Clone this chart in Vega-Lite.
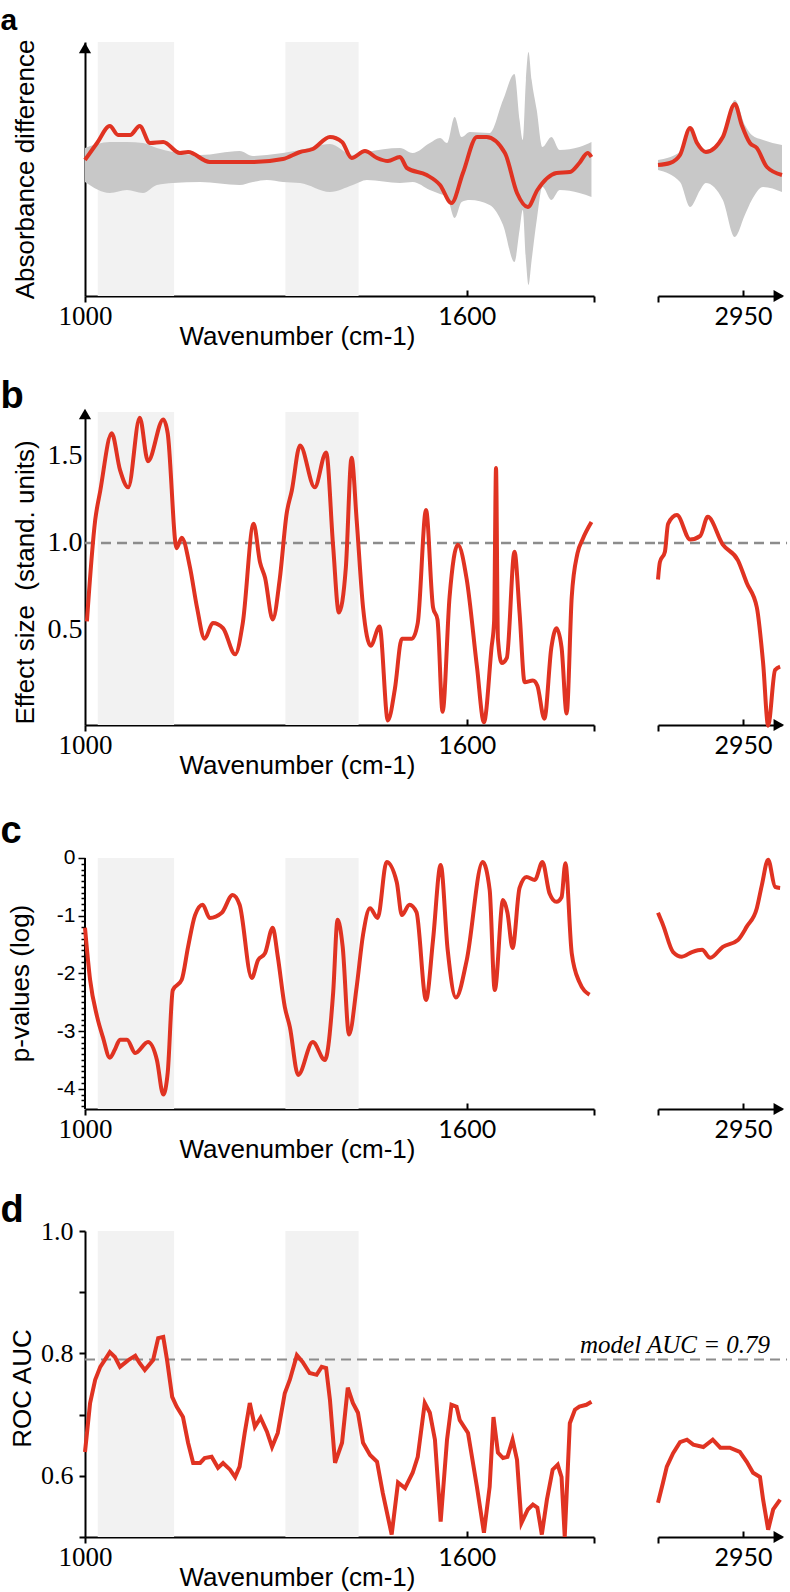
{
  "$schema": "https://vega.github.io/schema/vega-lite/v6.json",
  "background": "white",
  "autosize": {"type": "none"},
  "padding": {"left": 85, "top": 42, "right": 705, "bottom": 1550},
  "columns": 2,
  "align": "each",
  "bounds": "flush",
  "spacing": {"row": 122, "column": 64},
  "config": {
    "view": {"stroke": null},
    "axis": {"grid": false, "labelColor": "black", "tickColor": "black", "domainColor": "black", "titleColor": "black", "domainWidth": 2}
  },
  "datasets": {
    "bands": [{"start": 1020, "end": 1140}, {"start": 1315, "end": 1430}],
    "aLine": [
      {"w": 1000, "v": 0.00}, {"w": 1019, "v": 0.17}, {"w": 1039, "v": 0.34}, {"w": 1052, "v": 0.25},
      {"w": 1071, "v": 0.25}, {"w": 1086, "v": 0.34}, {"w": 1102, "v": 0.17}, {"w": 1123, "v": 0.18},
      {"w": 1149, "v": 0.07}, {"w": 1162, "v": 0.08}, {"w": 1196, "v": -0.02}, {"w": 1232, "v": -0.02},
      {"w": 1264, "v": -0.02}, {"w": 1311, "v": 0.01}, {"w": 1338, "v": 0.08}, {"w": 1358, "v": 0.11},
      {"w": 1385, "v": 0.23}, {"w": 1404, "v": 0.18}, {"w": 1419, "v": 0.02}, {"w": 1440, "v": 0.09},
      {"w": 1459, "v": 0.02}, {"w": 1476, "v": -0.01}, {"w": 1495, "v": 0.03}, {"w": 1506, "v": -0.08},
      {"w": 1537, "v": -0.15}, {"w": 1558, "v": -0.25}, {"w": 1576, "v": -0.43}, {"w": 1594, "v": -0.13},
      {"w": 1616, "v": 0.23}, {"w": 1631, "v": 0.23}, {"w": 1660, "v": 0.07}, {"w": 1679, "v": -0.33},
      {"w": 1696, "v": -0.47}, {"w": 1711, "v": -0.30}, {"w": 1741, "v": -0.13}, {"w": 1762, "v": -0.12},
      {"w": 1777, "v": -0.03}, {"w": 1790, "v": 0.07}, {"w": 1796, "v": 0.03}
    ],
    "aBand": [
      {"w": 1000, "lo": -0.22, "hi": 0.12}, {"w": 1039, "lo": -0.33, "hi": 0.18}, {"w": 1066, "lo": -0.30, "hi": 0.18},
      {"w": 1091, "lo": -0.33, "hi": 0.17}, {"w": 1113, "lo": -0.25, "hi": 0.12}, {"w": 1138, "lo": -0.23, "hi": 0.08},
      {"w": 1181, "lo": -0.22, "hi": 0.05}, {"w": 1243, "lo": -0.25, "hi": 0.09}, {"w": 1264, "lo": -0.22, "hi": 0.04},
      {"w": 1286, "lo": -0.20, "hi": 0.05}, {"w": 1311, "lo": -0.22, "hi": 0.07}, {"w": 1338, "lo": -0.23, "hi": 0.10},
      {"w": 1385, "lo": -0.32, "hi": 0.16}, {"w": 1421, "lo": -0.25, "hi": 0.05}, {"w": 1443, "lo": -0.20, "hi": 0.08},
      {"w": 1495, "lo": -0.23, "hi": 0.12}, {"w": 1515, "lo": -0.22, "hi": 0.07}, {"w": 1542, "lo": -0.30, "hi": 0.17},
      {"w": 1558, "lo": -0.34, "hi": 0.22}, {"w": 1569, "lo": -0.37, "hi": 0.17}, {"w": 1581, "lo": -0.58, "hi": 0.43},
      {"w": 1592, "lo": -0.42, "hi": 0.23}, {"w": 1605, "lo": -0.40, "hi": 0.28}, {"w": 1636, "lo": -0.45, "hi": 0.27},
      {"w": 1657, "lo": -0.65, "hi": 0.60}, {"w": 1675, "lo": -1.02, "hi": 0.86}, {"w": 1683, "lo": -0.70, "hi": 0.40},
      {"w": 1688, "lo": -0.50, "hi": 0.20}, {"w": 1693, "lo": -1.00, "hi": 0.80}, {"w": 1697, "lo": -1.25, "hi": 1.08},
      {"w": 1702, "lo": -1.00, "hi": 0.80}, {"w": 1710, "lo": -0.60, "hi": 0.50}, {"w": 1719, "lo": -0.27, "hi": 0.13},
      {"w": 1733, "lo": -0.40, "hi": 0.23}, {"w": 1746, "lo": -0.30, "hi": 0.10}, {"w": 1777, "lo": -0.33, "hi": 0.13},
      {"w": 1796, "lo": -0.37, "hi": 0.18}
    ],
    "aLineR": [
      {"w": 2815, "v": -0.05}, {"w": 2834, "v": -0.03}, {"w": 2850, "v": 0.05}, {"w": 2866, "v": 0.32},
      {"w": 2877, "v": 0.17}, {"w": 2891, "v": 0.08}, {"w": 2918, "v": 0.23}, {"w": 2937, "v": 0.56},
      {"w": 2948, "v": 0.35}, {"w": 2961, "v": 0.17}, {"w": 2972, "v": 0.12}, {"w": 2988, "v": -0.07},
      {"w": 3012, "v": -0.15}
    ],
    "aBandR": [
      {"w": 2815, "lo": -0.10, "hi": 0.00}, {"w": 2850, "lo": -0.22, "hi": 0.08}, {"w": 2866, "lo": -0.47, "hi": 0.30},
      {"w": 2882, "lo": -0.30, "hi": 0.15}, {"w": 2891, "lo": -0.23, "hi": 0.10}, {"w": 2918, "lo": -0.40, "hi": 0.23},
      {"w": 2937, "lo": -0.77, "hi": 0.60}, {"w": 2953, "lo": -0.55, "hi": 0.35}, {"w": 2964, "lo": -0.40, "hi": 0.25},
      {"w": 2982, "lo": -0.27, "hi": 0.20}, {"w": 3012, "lo": -0.32, "hi": 0.15}
    ],
    "bLine": [
      {"w": 1003, "v": 0.55}, {"w": 1016, "v": 1.13}, {"w": 1024, "v": 1.30}, {"w": 1042, "v": 1.63},
      {"w": 1055, "v": 1.42}, {"w": 1068, "v": 1.32}, {"w": 1086, "v": 1.72}, {"w": 1099, "v": 1.47},
      {"w": 1123, "v": 1.71}, {"w": 1130, "v": 1.63}, {"w": 1144, "v": 0.97}, {"w": 1152, "v": 1.03},
      {"w": 1165, "v": 0.86}, {"w": 1176, "v": 0.63}, {"w": 1188, "v": 0.45}, {"w": 1201, "v": 0.54},
      {"w": 1217, "v": 0.51}, {"w": 1236, "v": 0.36}, {"w": 1248, "v": 0.54}, {"w": 1265, "v": 1.11},
      {"w": 1275, "v": 0.89}, {"w": 1283, "v": 0.80}, {"w": 1295, "v": 0.56}, {"w": 1306, "v": 0.79},
      {"w": 1317, "v": 1.17}, {"w": 1325, "v": 1.30}, {"w": 1338, "v": 1.56}, {"w": 1361, "v": 1.32},
      {"w": 1379, "v": 1.52}, {"w": 1390, "v": 0.98}, {"w": 1399, "v": 0.60}, {"w": 1410, "v": 0.86},
      {"w": 1419, "v": 1.49}, {"w": 1427, "v": 1.13}, {"w": 1437, "v": 0.63}, {"w": 1449, "v": 0.41},
      {"w": 1463, "v": 0.52}, {"w": 1476, "v": -0.02}, {"w": 1487, "v": 0.16}, {"w": 1498, "v": 0.45},
      {"w": 1514, "v": 0.45}, {"w": 1523, "v": 0.54}, {"w": 1536, "v": 1.19}, {"w": 1547, "v": 0.63},
      {"w": 1554, "v": 0.56}, {"w": 1562, "v": 0.03}, {"w": 1573, "v": 0.69}, {"w": 1586, "v": 0.99},
      {"w": 1600, "v": 0.79}, {"w": 1616, "v": 0.29}, {"w": 1627, "v": -0.03}, {"w": 1639, "v": 0.40},
      {"w": 1643, "v": 0.55}, {"w": 1646, "v": 1.43}, {"w": 1649, "v": 0.45}, {"w": 1655, "v": 0.31},
      {"w": 1663, "v": 0.34}, {"w": 1675, "v": 0.95}, {"w": 1683, "v": 0.60}, {"w": 1691, "v": 0.20},
      {"w": 1704, "v": 0.21}, {"w": 1711, "v": 0.18}, {"w": 1722, "v": -0.01}, {"w": 1733, "v": 0.40},
      {"w": 1741, "v": 0.51}, {"w": 1749, "v": 0.40}, {"w": 1757, "v": 0.02}, {"w": 1765, "v": 0.69},
      {"w": 1774, "v": 0.94}, {"w": 1782, "v": 1.02}, {"w": 1796, "v": 1.12}
    ],
    "bLineR": [
      {"w": 2815, "v": 0.79}, {"w": 2818, "v": 0.89}, {"w": 2826, "v": 0.95}, {"w": 2831, "v": 1.11},
      {"w": 2845, "v": 1.16}, {"w": 2866, "v": 1.02}, {"w": 2882, "v": 1.04}, {"w": 2894, "v": 1.15},
      {"w": 2918, "v": 0.99}, {"w": 2942, "v": 0.90}, {"w": 2956, "v": 0.77}, {"w": 2972, "v": 0.63},
      {"w": 2982, "v": 0.31}, {"w": 2990, "v": -0.05}, {"w": 3001, "v": 0.27}, {"w": 3009, "v": 0.29}
    ],
    "cLine": [
      {"w": 1000, "v": -1.21}, {"w": 1008, "v": -2.11}, {"w": 1019, "v": -2.75}, {"w": 1028, "v": -3.10},
      {"w": 1039, "v": -3.46}, {"w": 1047, "v": -3.32}, {"w": 1055, "v": -3.15}, {"w": 1066, "v": -3.15},
      {"w": 1079, "v": -3.38}, {"w": 1099, "v": -3.19}, {"w": 1113, "v": -3.50}, {"w": 1123, "v": -4.10},
      {"w": 1130, "v": -3.72}, {"w": 1138, "v": -2.29}, {"w": 1152, "v": -2.11}, {"w": 1162, "v": -1.54},
      {"w": 1173, "v": -0.99}, {"w": 1185, "v": -0.81}, {"w": 1196, "v": -1.04}, {"w": 1215, "v": -0.95},
      {"w": 1232, "v": -0.64}, {"w": 1243, "v": -0.81}, {"w": 1262, "v": -2.08}, {"w": 1272, "v": -1.77},
      {"w": 1283, "v": -1.65}, {"w": 1295, "v": -1.21}, {"w": 1303, "v": -1.71}, {"w": 1314, "v": -2.58},
      {"w": 1322, "v": -2.93}, {"w": 1335, "v": -3.76}, {"w": 1358, "v": -3.19}, {"w": 1377, "v": -3.50},
      {"w": 1390, "v": -2.34}, {"w": 1397, "v": -1.07}, {"w": 1405, "v": -1.54}, {"w": 1415, "v": -3.06},
      {"w": 1427, "v": -2.23}, {"w": 1437, "v": -1.33}, {"w": 1448, "v": -0.87}, {"w": 1460, "v": -1.04},
      {"w": 1474, "v": -0.07}, {"w": 1490, "v": -0.42}, {"w": 1498, "v": -0.99}, {"w": 1510, "v": -0.81},
      {"w": 1521, "v": -0.94}, {"w": 1536, "v": -2.46}, {"w": 1547, "v": -1.42}, {"w": 1559, "v": -0.12},
      {"w": 1570, "v": -1.59}, {"w": 1583, "v": -2.42}, {"w": 1600, "v": -1.77}, {"w": 1625, "v": -0.07},
      {"w": 1636, "v": -0.55}, {"w": 1644, "v": -2.29}, {"w": 1657, "v": -0.73}, {"w": 1664, "v": -0.95},
      {"w": 1672, "v": -1.56}, {"w": 1683, "v": -0.52}, {"w": 1694, "v": -0.33}, {"w": 1707, "v": -0.38},
      {"w": 1719, "v": -0.07}, {"w": 1730, "v": -0.61}, {"w": 1741, "v": -0.76}, {"w": 1749, "v": -0.68},
      {"w": 1755, "v": -0.09}, {"w": 1765, "v": -1.65}, {"w": 1777, "v": -2.15}, {"w": 1793, "v": -2.37}
    ],
    "cLineR": [
      {"w": 2815, "v": -0.95}, {"w": 2823, "v": -1.16}, {"w": 2839, "v": -1.63}, {"w": 2853, "v": -1.71},
      {"w": 2869, "v": -1.63}, {"w": 2885, "v": -1.59}, {"w": 2898, "v": -1.73}, {"w": 2918, "v": -1.54},
      {"w": 2942, "v": -1.42}, {"w": 2956, "v": -1.19}, {"w": 2972, "v": -0.87}, {"w": 2980, "v": -0.47},
      {"w": 2990, "v": -0.03}, {"w": 3001, "v": -0.50}, {"w": 3009, "v": -0.52}
    ],
    "dLine": [
      {"w": 1000, "v": 0.639}, {"w": 1008, "v": 0.719}, {"w": 1016, "v": 0.757}, {"w": 1024, "v": 0.778},
      {"w": 1031, "v": 0.789}, {"w": 1039, "v": 0.802}, {"w": 1047, "v": 0.794}, {"w": 1055, "v": 0.778},
      {"w": 1068, "v": 0.789}, {"w": 1079, "v": 0.796}, {"w": 1086, "v": 0.784}, {"w": 1094, "v": 0.773},
      {"w": 1107, "v": 0.789}, {"w": 1115, "v": 0.825}, {"w": 1123, "v": 0.827}, {"w": 1129, "v": 0.789},
      {"w": 1137, "v": 0.729}, {"w": 1144, "v": 0.713}, {"w": 1154, "v": 0.696}, {"w": 1162, "v": 0.654},
      {"w": 1170, "v": 0.621}, {"w": 1181, "v": 0.621}, {"w": 1188, "v": 0.629}, {"w": 1199, "v": 0.631},
      {"w": 1209, "v": 0.613}, {"w": 1217, "v": 0.621}, {"w": 1228, "v": 0.610}, {"w": 1236, "v": 0.598},
      {"w": 1243, "v": 0.615}, {"w": 1251, "v": 0.670}, {"w": 1259, "v": 0.719}, {"w": 1267, "v": 0.680},
      {"w": 1276, "v": 0.695}, {"w": 1286, "v": 0.672}, {"w": 1294, "v": 0.647}, {"w": 1303, "v": 0.670},
      {"w": 1314, "v": 0.735}, {"w": 1322, "v": 0.757}, {"w": 1333, "v": 0.797}, {"w": 1342, "v": 0.786},
      {"w": 1353, "v": 0.768}, {"w": 1364, "v": 0.765}, {"w": 1372, "v": 0.778}, {"w": 1379, "v": 0.776},
      {"w": 1385, "v": 0.724}, {"w": 1393, "v": 0.621}, {"w": 1404, "v": 0.654}, {"w": 1413, "v": 0.744},
      {"w": 1421, "v": 0.719}, {"w": 1429, "v": 0.703}, {"w": 1437, "v": 0.654}, {"w": 1448, "v": 0.634},
      {"w": 1459, "v": 0.623}, {"w": 1468, "v": 0.572}, {"w": 1482, "v": 0.504}, {"w": 1492, "v": 0.589},
      {"w": 1503, "v": 0.580}, {"w": 1515, "v": 0.605}, {"w": 1523, "v": 0.631}, {"w": 1534, "v": 0.719},
      {"w": 1542, "v": 0.703}, {"w": 1550, "v": 0.659}, {"w": 1559, "v": 0.525}, {"w": 1569, "v": 0.659},
      {"w": 1576, "v": 0.716}, {"w": 1584, "v": 0.713}, {"w": 1589, "v": 0.691}, {"w": 1602, "v": 0.670},
      {"w": 1616, "v": 0.582}, {"w": 1627, "v": 0.507}, {"w": 1636, "v": 0.582}, {"w": 1642, "v": 0.696},
      {"w": 1649, "v": 0.638}, {"w": 1657, "v": 0.629}, {"w": 1664, "v": 0.631}, {"w": 1672, "v": 0.659},
      {"w": 1679, "v": 0.626}, {"w": 1686, "v": 0.523}, {"w": 1696, "v": 0.545}, {"w": 1704, "v": 0.553},
      {"w": 1711, "v": 0.548}, {"w": 1718, "v": 0.504}, {"w": 1726, "v": 0.561}, {"w": 1735, "v": 0.610},
      {"w": 1743, "v": 0.618}, {"w": 1749, "v": 0.598}, {"w": 1754, "v": 0.500}, {"w": 1762, "v": 0.686},
      {"w": 1770, "v": 0.708}, {"w": 1777, "v": 0.713}, {"w": 1788, "v": 0.716}, {"w": 1796, "v": 0.721}
    ],
    "dLineR": [
      {"w": 2815, "v": 0.556}, {"w": 2823, "v": 0.589}, {"w": 2829, "v": 0.615}, {"w": 2839, "v": 0.637},
      {"w": 2850, "v": 0.655}, {"w": 2861, "v": 0.659}, {"w": 2871, "v": 0.651}, {"w": 2887, "v": 0.647},
      {"w": 2902, "v": 0.659}, {"w": 2914, "v": 0.646}, {"w": 2929, "v": 0.646}, {"w": 2945, "v": 0.639},
      {"w": 2956, "v": 0.623}, {"w": 2966, "v": 0.605}, {"w": 2977, "v": 0.598}, {"w": 2982, "v": 0.561},
      {"w": 2990, "v": 0.512}, {"w": 2998, "v": 0.545}, {"w": 3009, "v": 0.561}
    ]
  },
  "concat": [
    {
      "width": 509, "height": 254,
      "layer": [
        {
          "data": {"name": "bands"},
          "mark": {"type": "rect", "color": "#f2f2f2"},
          "encoding": {
            "x": {"field": "start", "type": "quantitative", "scale": {"domain": [1000, 1800], "nice": false, "zero": false},
              "axis": {"title": "Wavenumber (cm-1)", "values": [1000, 1600, 1800], "format": "d", "labelExpr": "datum.value == 1800 ? '' : datum.label",
                "labelFont": {"condition": {"test": "datum.value == 1000", "value": "Liberation Serif"}, "value": "Lato"},
                "labelFontSize": {"condition": {"test": "datum.value == 1000", "value": 27}, "value": 25},
                "labelBaseline": "alphabetic", "labelPadding": {"condition": {"test": "datum.value == 1600", "value": 34}, "value": 22}, "labelOverlap": false, "labelFlush": false,
                "tickSize": {"condition": {"test": "datum.value == 1600", "value": -6}, "value": 6}, "tickWidth": 2, "domainWidth": 2,
                "titleFont": "Liberation Sans", "titleFontSize": 26, "titleFontWeight": "normal", "titleX": 212, "titleY": 48, "titleAlign": "center", "titleBaseline": "alphabetic"}},
            "x2": {"field": "end"}
          }
        },
        {
          "data": {"name": "aBand"},
          "mark": {"type": "area", "color": "#c8c8c8", "interpolate": "monotone"},
          "encoding": {
            "x": {"field": "w", "type": "quantitative"},
            "y": {"field": "lo", "type": "quantitative", "scale": {"domain": [-1.36, 1.18], "nice": false, "zero": false},
              "axis": {"title": "Absorbance difference", "labels": false, "ticks": false, "domainWidth": 2,
                "titleFont": "Liberation Sans", "titleFontSize": 26, "titleFontWeight": "normal", "titleX": -52, "titleY": 127, "titleAlign": "center", "titleBaseline": "alphabetic"}},
            "y2": {"field": "hi"}
          }
        },
        {
          "data": {"name": "aLine"},
          "mark": {"type": "line", "color": "#e03322", "strokeWidth": 4, "interpolate": "monotone"},
          "encoding": {"x": {"field": "w", "type": "quantitative"}, "y": {"field": "v", "type": "quantitative"}}
        },
        {
          "data": {"values": [{}]},
          "mark": {"type": "point", "shape": "triangle-up", "filled": true, "color": "black", "opacity": 1, "size": 150},
          "encoding": {"x": {"datum": 1000}, "y": {"datum": 1.12}}
        },
        {
          "data": {"values": [{}]},
          "mark": {"type": "text", "text": "a", "font": "Liberation Sans", "fontSize": 30, "fontWeight": "bold", "align": "left", "baseline": "alphabetic", "color": "black"},
          "encoding": {"x": {"datum": 867}, "y": {"datum": 1.30}}
        }
      ]
    },
    {
      "width": 124, "height": 254,
      "layer": [
        {
          "data": {"name": "aBandR"},
          "mark": {"type": "area", "color": "#c8c8c8", "interpolate": "monotone"},
          "encoding": {
            "x": {"field": "w", "type": "quantitative", "scale": {"domain": [2815, 3012], "nice": false, "zero": false},
              "axis": {"title": null, "values": [2815, 2950], "format": "d", "labelExpr": "datum.value == 2950 ? datum.label : ''",
                "labelFont": "Lato", "labelFontSize": 25, "labelBaseline": "alphabetic", "labelPadding": {"condition": {"test": "datum.value == 2950", "value": 34}, "value": 22}, "labelOverlap": false, "labelFlush": false,
                "tickSize": {"condition": {"test": "datum.value == 2950", "value": -6}, "value": 6}, "tickWidth": 2, "domainWidth": 2}},
            "y": {"field": "lo", "type": "quantitative", "scale": {"domain": [-1.36, 1.18], "nice": false, "zero": false}, "axis": null},
            "y2": {"field": "hi"}
          }
        },
        {
          "data": {"name": "aLineR"},
          "mark": {"type": "line", "color": "#e03322", "strokeWidth": 4, "interpolate": "monotone"},
          "encoding": {"x": {"field": "w", "type": "quantitative"}, "y": {"field": "v", "type": "quantitative"}}
        },
        {
          "data": {"values": [{}]},
          "mark": {"type": "point", "shape": "triangle-right", "filled": true, "color": "black", "opacity": 1, "size": 150},
          "encoding": {"x": {"datum": 3007}, "y": {"datum": -1.36}}
        }
      ]
    },
    {
      "width": 509, "height": 307,
      "layer": [
        {
          "data": {"name": "bands"},
          "mark": {"type": "rect", "color": "#f2f2f2"},
          "encoding": {
            "x": {"field": "start", "type": "quantitative", "scale": {"domain": [1000, 1800], "nice": false, "zero": false},
              "axis": {"title": "Wavenumber (cm-1)", "values": [1000, 1600, 1800], "format": "d", "labelExpr": "datum.value == 1800 ? '' : datum.label",
                "labelFont": {"condition": {"test": "datum.value == 1000", "value": "Liberation Serif"}, "value": "Lato"},
                "labelFontSize": {"condition": {"test": "datum.value == 1000", "value": 27}, "value": 25},
                "labelBaseline": "alphabetic", "labelPadding": {"condition": {"test": "datum.value == 1600", "value": 34}, "value": 22}, "labelOverlap": false, "labelFlush": false,
                "tickSize": {"condition": {"test": "datum.value == 1600", "value": -6}, "value": 6}, "tickWidth": 2, "domainWidth": 2,
                "titleFont": "Liberation Sans", "titleFontSize": 26, "titleFontWeight": "normal", "titleX": 212, "titleY": 48, "titleAlign": "center", "titleBaseline": "alphabetic"}},
            "x2": {"field": "end"},
            "y": {"datum": 1.753},
            "y2": {"datum": -0.046}
          }
        },
        {
          "data": {"values": [{}]},
          "mark": {"type": "rule", "color": "#8c8c8c", "strokeWidth": 2.5, "strokeDash": [10, 6]},
          "encoding": {"x": {"datum": 1000}, "x2": {"datum": 1900}, "y": {"datum": 1.0}}
        },
        {
          "data": {"name": "bLine"},
          "mark": {"type": "line", "color": "#e03322", "strokeWidth": 4, "interpolate": "monotone"},
          "encoding": {
            "x": {"field": "w", "type": "quantitative"},
            "y": {"field": "v", "type": "quantitative", "scale": {"domain": [-0.046, 1.718], "nice": false, "zero": false},
              "axis": {"title": "Effect size\u00a0 (stand. units)", "values": [0.5, 1.0, 1.5], "format": ".1f", "ticks": false, "labelPadding": 3,
                "labelFont": "Liberation Serif", "labelFontSize": 28, "domainWidth": 2,
                "titleFont": "Liberation Sans", "titleFontSize": 26, "titleFontWeight": "normal", "titleX": -52, "titleY": 164, "titleAlign": "center", "titleBaseline": "alphabetic"}}
          }
        },
        {
          "data": {"values": [{}]},
          "mark": {"type": "point", "shape": "triangle-up", "filled": true, "color": "black", "opacity": 1, "size": 150},
          "encoding": {"x": {"datum": 1000}, "y": {"datum": 1.741}}
        },
        {
          "data": {"values": [{}]},
          "mark": {"type": "text", "text": "b", "font": "Liberation Sans", "fontSize": 38, "fontWeight": "bold", "align": "left", "baseline": "alphabetic", "color": "black"},
          "encoding": {"x": {"datum": 867}, "y": {"datum": 1.775}}
        }
      ]
    },
    {
      "width": 124, "height": 307,
      "layer": [
        {
          "data": {"values": [{}]},
          "mark": {"type": "rule", "color": "#8c8c8c", "strokeWidth": 2.5, "strokeDash": [10, 6]},
          "encoding": {
            "x": {"datum": 2815, "scale": {"domain": [2815, 3012], "nice": false, "zero": false},
              "axis": {"title": null, "values": [2815, 2950], "format": "d", "labelExpr": "datum.value == 2950 ? datum.label : ''",
                "labelFont": "Lato", "labelFontSize": 25, "labelBaseline": "alphabetic", "labelPadding": {"condition": {"test": "datum.value == 2950", "value": 34}, "value": 22}, "labelOverlap": false, "labelFlush": false,
                "tickSize": {"condition": {"test": "datum.value == 2950", "value": -6}, "value": 6}, "tickWidth": 2, "domainWidth": 2}},
            "x2": {"datum": 3020},
            "y": {"datum": 1.0, "scale": {"domain": [-0.046, 1.718], "nice": false, "zero": false}, "axis": null}
          }
        },
        {
          "data": {"name": "bLineR"},
          "mark": {"type": "line", "color": "#e03322", "strokeWidth": 4, "interpolate": "monotone"},
          "encoding": {"x": {"field": "w", "type": "quantitative"}, "y": {"field": "v", "type": "quantitative"}}
        },
        {
          "data": {"values": [{}]},
          "mark": {"type": "point", "shape": "triangle-right", "filled": true, "color": "black", "opacity": 1, "size": 150},
          "encoding": {"x": {"datum": 3007}, "y": {"datum": -0.046}}
        }
      ]
    },
    {
      "width": 509, "height": 262,
      "resolve": {"axis": {"y": "independent"}},
      "layer": [
        {
          "data": {"name": "bands"},
          "mark": {"type": "rect", "color": "#f2f2f2"},
          "encoding": {
            "x": {"field": "start", "type": "quantitative", "scale": {"domain": [1000, 1800], "nice": false, "zero": false},
              "axis": {"title": "Wavenumber (cm-1)", "values": [1000, 1600, 1800], "format": "d", "labelExpr": "datum.value == 1800 ? '' : datum.label",
                "labelFont": {"condition": {"test": "datum.value == 1000", "value": "Liberation Serif"}, "value": "Lato"},
                "labelFontSize": {"condition": {"test": "datum.value == 1000", "value": 27}, "value": 25},
                "labelBaseline": "alphabetic", "labelPadding": {"condition": {"test": "datum.value == 1600", "value": 34}, "value": 22}, "labelOverlap": false, "labelFlush": false,
                "tickSize": {"condition": {"test": "datum.value == 1600", "value": -6}, "value": 6}, "tickWidth": 2, "domainWidth": 2,
                "titleFont": "Liberation Sans", "titleFontSize": 26, "titleFontWeight": "normal", "titleX": 212, "titleY": 48, "titleAlign": "center", "titleBaseline": "alphabetic"}},
            "x2": {"field": "end"},
            "y": {"datum": 0, "scale": {"domain": [-4.35, 0.19], "nice": false, "zero": false}, "axis": null},
            "y2": {"datum": -4.35}
          }
        },
        {
          "data": {"values": [{}]},
          "mark": {"type": "rule", "color": "black", "strokeWidth": 2},
          "encoding": {"x": {"datum": 1000}, "y": {"datum": 0, "axis": null}, "y2": {"datum": -4.35}}
        },
        {
          "data": {"values": [{}]},
          "mark": {"type": "point", "opacity": 0},
          "encoding": {
            "x": {"datum": 1000},
            "y": {"datum": 0, "axis": {"orient": "left", "title": null, "labels": false, "domain": false, "tickSize": 4, "tickWidth": 1.5,
              "values": [-0.1, -0.2, -0.3, -0.4, -0.5, -0.6, -0.7, -0.8, -0.9, -1.1, -1.2, -1.3, -1.4, -1.5, -1.6, -1.7, -1.8, -1.9, -2.1, -2.2, -2.3, -2.4, -2.5, -2.6, -2.7, -2.8, -2.9, -3.1, -3.2, -3.3, -3.4, -3.5, -3.6, -3.7, -3.8, -3.9, -4.1, -4.2, -4.3]}}
          }
        },
        {
          "data": {"name": "cLine"},
          "mark": {"type": "line", "color": "#e03322", "strokeWidth": 4, "interpolate": "monotone"},
          "encoding": {
            "x": {"field": "w", "type": "quantitative"},
            "y": {"field": "v", "type": "quantitative",
              "axis": {"orient": "left", "title": "p-values (log)", "domain": false, "values": [0, -1, -2, -3, -4],
                "labelExpr": "datum.value == 0 ? '0' : '-' + abs(datum.value)",
                "labelOverlap": false, "labelFlush": false, "tickSize": 7, "tickWidth": 1.5,
                "labelPadding": 3, "labelFont": "Liberation Sans", "labelFontSize": 21,
                "titleFont": "Liberation Sans", "titleFontSize": 26, "titleFontWeight": "normal", "titleX": -57, "titleY": 136, "titleAlign": "center", "titleBaseline": "alphabetic"}}
          }
        },
        {
          "data": {"values": [{}]},
          "mark": {"type": "text", "text": "c", "font": "Liberation Sans", "fontSize": 38, "fontWeight": "bold", "align": "left", "baseline": "alphabetic", "color": "black"},
          "encoding": {"x": {"datum": 867}, "y": {"datum": 0.259, "axis": null}}
        }
      ]
    },
    {
      "width": 124, "height": 262,
      "layer": [
        {
          "data": {"name": "cLineR"},
          "mark": {"type": "line", "color": "#e03322", "strokeWidth": 4, "interpolate": "monotone"},
          "encoding": {
            "x": {"field": "w", "type": "quantitative", "scale": {"domain": [2815, 3012], "nice": false, "zero": false},
              "axis": {"title": null, "values": [2815, 2950], "format": "d", "labelExpr": "datum.value == 2950 ? datum.label : ''",
                "labelFont": "Lato", "labelFontSize": 25, "labelBaseline": "alphabetic", "labelPadding": {"condition": {"test": "datum.value == 2950", "value": 34}, "value": 22}, "labelOverlap": false, "labelFlush": false,
                "tickSize": {"condition": {"test": "datum.value == 2950", "value": -6}, "value": 6}, "tickWidth": 2, "domainWidth": 2}},
            "y": {"field": "v", "type": "quantitative", "scale": {"domain": [-4.35, 0.19], "nice": false, "zero": false}, "axis": null}
          }
        },
        {
          "data": {"values": [{}]},
          "mark": {"type": "point", "shape": "triangle-right", "filled": true, "color": "black", "opacity": 1, "size": 150},
          "encoding": {"x": {"datum": 3007}, "y": {"datum": -4.35}}
        }
      ]
    },
    {
      "width": 509, "height": 306,
      "layer": [
        {
          "data": {"name": "bands"},
          "mark": {"type": "rect", "color": "#f2f2f2"},
          "encoding": {
            "x": {"field": "start", "type": "quantitative", "scale": {"domain": [1000, 1800], "nice": false, "zero": false},
              "axis": {"title": "Wavenumber (cm-1)", "values": [1000, 1600, 1800], "format": "d", "labelExpr": "datum.value == 1800 ? '' : datum.label",
                "labelFont": {"condition": {"test": "datum.value == 1000", "value": "Liberation Serif"}, "value": "Lato"},
                "labelFontSize": {"condition": {"test": "datum.value == 1000", "value": 27}, "value": 25},
                "labelBaseline": "alphabetic", "labelPadding": {"condition": {"test": "datum.value == 1600", "value": 34}, "value": 22}, "labelOverlap": false, "labelFlush": false,
                "tickSize": {"condition": {"test": "datum.value == 1600", "value": -6}, "value": 6}, "tickWidth": 2, "domainWidth": 2,
                "titleFont": "Liberation Sans", "titleFontSize": 26, "titleFontWeight": "normal", "titleX": 212, "titleY": 48, "titleAlign": "center", "titleBaseline": "alphabetic"}},
            "x2": {"field": "end"}
          }
        },
        {
          "data": {"values": [{}]},
          "mark": {"type": "rule", "color": "#8c8c8c", "strokeWidth": 2, "strokeDash": [10, 6]},
          "encoding": {"x": {"datum": 1000}, "x2": {"datum": 1900}, "y": {"datum": 0.79}}
        },
        {
          "data": {"name": "dLine"},
          "mark": {"type": "line", "color": "#e03322", "strokeWidth": 4},
          "encoding": {
            "x": {"field": "w", "type": "quantitative"},
            "y": {"field": "v", "type": "quantitative", "scale": {"domain": [0.5, 1.0], "nice": false, "zero": false},
              "axis": {"title": "ROC AUC", "values": [0.5, 0.6, 0.7, 0.8, 0.9, 1.0],
                "labelExpr": "datum.value == 0.6 || datum.value == 0.8 || datum.value == 1 ? format(datum.value, '.1f') : ''",
                "labelOverlap": false, "labelFlush": false, "tickSize": 6, "tickWidth": 2, "labelPadding": 6,
                "labelFont": "Liberation Serif", "labelFontSize": 26, "domainWidth": 2,
                "titleFont": "Liberation Sans", "titleFontSize": 26, "titleFontWeight": "normal", "titleX": -55, "titleY": 157, "titleAlign": "center", "titleBaseline": "alphabetic"}}
          }
        },
        {
          "data": {"values": [{}]},
          "mark": {"type": "text", "text": "d", "font": "Liberation Sans", "fontSize": 38, "fontWeight": "bold", "align": "left", "baseline": "alphabetic", "color": "black"},
          "encoding": {"x": {"datum": 867}, "y": {"datum": 1.0147}}
        }
      ]
    },
    {
      "width": 124, "height": 306,
      "layer": [
        {
          "data": {"values": [{}]},
          "mark": {"type": "rule", "color": "#8c8c8c", "strokeWidth": 2, "strokeDash": [10, 6]},
          "encoding": {
            "x": {"datum": 2815, "scale": {"domain": [2815, 3012], "nice": false, "zero": false},
              "axis": {"title": null, "values": [2815, 2950], "format": "d", "labelExpr": "datum.value == 2950 ? datum.label : ''",
                "labelFont": "Lato", "labelFontSize": 25, "labelBaseline": "alphabetic", "labelPadding": {"condition": {"test": "datum.value == 2950", "value": 34}, "value": 22}, "labelOverlap": false, "labelFlush": false,
                "tickSize": {"condition": {"test": "datum.value == 2950", "value": -6}, "value": 6}, "tickWidth": 2, "domainWidth": 2}},
            "x2": {"datum": 3020},
            "y": {"datum": 0.79, "scale": {"domain": [0.5, 1.0], "nice": false, "zero": false}, "axis": null}
          }
        },
        {
          "data": {"name": "dLineR"},
          "mark": {"type": "line", "color": "#e03322", "strokeWidth": 4},
          "encoding": {"x": {"field": "w", "type": "quantitative"}, "y": {"field": "v", "type": "quantitative"}}
        },
        {
          "data": {"values": [{}]},
          "mark": {"type": "text", "text": "model AUC = 0.79", "font": "Liberation Serif", "fontStyle": "italic", "fontSize": 25, "align": "right", "baseline": "alphabetic", "dy": -7, "color": "black"},
          "encoding": {"x": {"datum": 2993}, "y": {"datum": 0.79}}
        },
        {
          "data": {"values": [{}]},
          "mark": {"type": "point", "shape": "triangle-right", "filled": true, "color": "black", "opacity": 1, "size": 150},
          "encoding": {"x": {"datum": 3007}, "y": {"datum": 0.5}}
        }
      ]
    }
  ]
}
